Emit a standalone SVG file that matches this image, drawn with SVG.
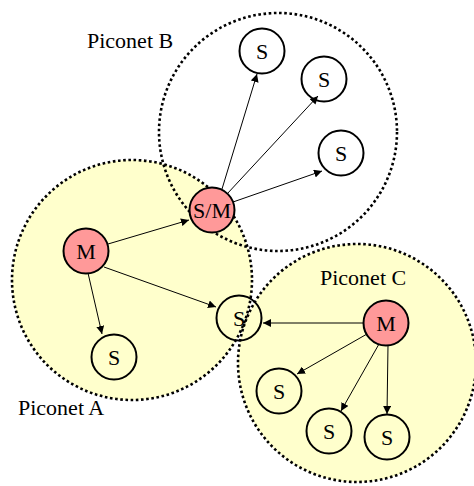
<svg xmlns="http://www.w3.org/2000/svg" width="474" height="486" viewBox="0 0 474 486">
<defs>
<marker id="arr" viewBox="0 0 10 10" refX="10" refY="5" markerWidth="8" markerHeight="8" markerUnits="userSpaceOnUse" orient="auto">
<path d="M0,0 L10,5 L0,10 z" fill="#000"/>
</marker>
<style>
.fillA{fill:#FFFFCC;stroke:none}
.border{fill:none;stroke:#000;stroke-width:2.6;stroke-dasharray:2.6 2.6}
.node{stroke:#000;stroke-width:2}
.m{fill:#FF9999}
.s{fill:none}
.lbl{font-size:22px;fill:#000}
.nt{font-size:22px;fill:#000;text-anchor:middle}
.edge{stroke:#000;stroke-width:1;fill:none;marker-end:url(#arr)}
</style>
</defs>
<rect width="474" height="486" fill="#fff"/>
<g id="piconet-fills">
<circle class="fillA" cx="132" cy="280" r="120"/>
<circle class="fillA" cx="357" cy="363" r="119"/>
</g>
<g id="piconet-borders">
<circle id="piconetA" class="border" cx="132" cy="280" r="120"/>
<circle id="piconetB" class="border" cx="278" cy="132" r="119"/>
<circle id="piconetC" class="border" cx="357" cy="363" r="119"/>
</g>
<g id="labels" font-family="Liberation Serif, Times New Roman, serif">
<text class="lbl" x="87" y="48">Piconet B</text>
<text class="lbl" x="320" y="285">Piconet C</text>
<text class="lbl" x="18" y="415">Piconet A</text>
</g>
<g id="connectors">
<line class="edge" x1="222" y1="189" x2="257" y2="74"/>
<line class="edge" x1="227" y1="194" x2="318" y2="96"/>
<line class="edge" x1="233" y1="202" x2="322" y2="171"/>
<line class="edge" x1="108" y1="244" x2="189" y2="220"/>
<line class="edge" x1="104" y1="267" x2="216" y2="307"/>
<line class="edge" x1="88" y1="273" x2="102" y2="334"/>
<line class="edge" x1="364" y1="323" x2="263" y2="323"/>
<line class="edge" x1="367" y1="334" x2="297" y2="374"/>
<line class="edge" x1="379" y1="344" x2="341" y2="411"/>
<line class="edge" x1="388" y1="345" x2="387" y2="414"/>
</g>
<g id="nodes" font-family="Liberation Serif, Times New Roman, serif">
<g id="nodeB1"><circle class="node s" cx="262" cy="51" r="22.5"/><text class="nt" x="262" y="59">S</text></g>
<g id="nodeB2"><circle class="node s" cx="324" cy="79" r="22.5"/><text class="nt" x="324" y="87">S</text></g>
<g id="nodeB3"><circle class="node s" cx="341" cy="153" r="22.5"/><text class="nt" x="341" y="161">S</text></g>
<g id="nodeSM"><circle class="node m" cx="212" cy="210" r="22.5"/><text class="nt" x="212" y="218">S/M</text></g>
<g id="nodeMA"><circle class="node m" cx="86" cy="251" r="22.5"/><text class="nt" x="86" y="259">M</text></g>
<g id="nodeShared"><circle class="node s" cx="239" cy="318" r="22.5"/><text class="nt" x="239" y="326">S</text></g>
<g id="nodeA1"><circle class="node s" cx="114" cy="357" r="22.5"/><text class="nt" x="114" y="365">S</text></g>
<g id="nodeMC"><circle class="node m" cx="386" cy="323" r="22.5"/><text class="nt" x="386" y="331">M</text></g>
<g id="nodeC1"><circle class="node s" cx="279" cy="391" r="22.5"/><text class="nt" x="279" y="399">S</text></g>
<g id="nodeC2"><circle class="node s" cx="329" cy="431" r="22.5"/><text class="nt" x="329" y="439">S</text></g>
<g id="nodeC3"><circle class="node s" cx="387" cy="437" r="22.5"/><text class="nt" x="387" y="445">S</text></g>
</g>
</svg>
